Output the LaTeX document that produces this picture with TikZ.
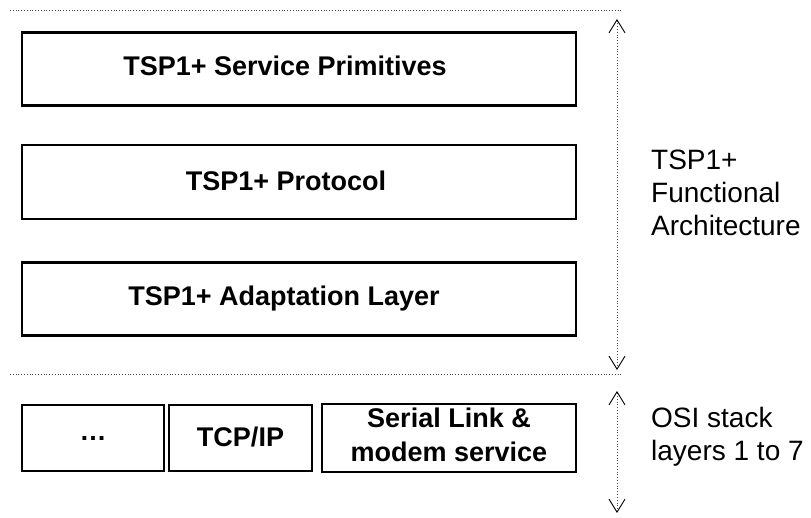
\documentclass[tikz,border=0pt]{standalone}
\usepackage{fontspec}
\setmainfont{Liberation Sans}
\usetikzlibrary{arrows.meta}
\begin{document}
\begin{tikzpicture}[x=1pt,y=-1pt,
  box/.style={draw=black,line width=2.2pt,fill=white,inner sep=0pt,align=center,
    font=\fontsize{27}{34}\selectfont\bfseries},
  sep/.style={draw=black!70,line width=0.8pt,dotted},
  span/.style={draw=black!70,line width=0.8pt,dotted,
    {Straight Barb[length=13pt,width=16pt,line width=0.9pt,black]}-{Straight Barb[length=13pt,width=16pt,line width=0.9pt,black]}},
  lbl/.style={anchor=west,align=left,inner sep=0pt,font=\fontsize{28}{33}\selectfont}]
\useasboundingbox (0,0) rectangle (811,517);
\coordinate (l1a) at (10,10);
\coordinate (l1b) at (621,10);
\coordinate (l2a) at (10,374);
\coordinate (l2b) at (621,374);
\draw[sep] (l1a) -- (l1b);
\draw[sep] (l2a) -- (l2b);
\node[box,minimum width=554pt,minimum height=73pt] (sp) at (299,69) {\hspace*{-28pt}\raisebox{7pt}{TSP1+ Service Primitives}};
\node[box,minimum width=554pt,minimum height=74pt] (pr) at (299,182) {\hspace*{-26pt}\raisebox{2pt}{TSP1+ Protocol}};
\node[box,minimum width=554pt,minimum height=73pt] (ad) at (299,299) {\hspace*{-30pt}\raisebox{-5pt}{TSP1+ Adaptation Layer}};
\node[box,minimum width=142pt,minimum height=66pt] (dots) at (93,438) {\raisebox{-3pt}{…}};
\node[box,minimum width=143pt,minimum height=66pt] (tcp) at (240.5,438) {\raisebox{2pt}{TCP/IP}};
\node[box,minimum width=254pt,minimum height=66pt] (ser) at (449,438) {\raisebox{3pt}{\begin{tabular}{@{}c@{}}Serial Link \&\\modem service\end{tabular}}};
\coordinate (a1t) at (617,19);
\coordinate (a1b) at (617,370);
\coordinate (a2t) at (617,391);
\coordinate (a2b) at (617,513);
\draw[span] (a1b) -- (a1t);
\draw[span] (a2b) -- (a2t);
\node[lbl] (fa) at (651,193) {TSP1+\\Functional\\Architecture};
\node[lbl] (osi) at (651,437) {OSI stack\\layers 1 to 7};
\end{tikzpicture}
\end{document}
